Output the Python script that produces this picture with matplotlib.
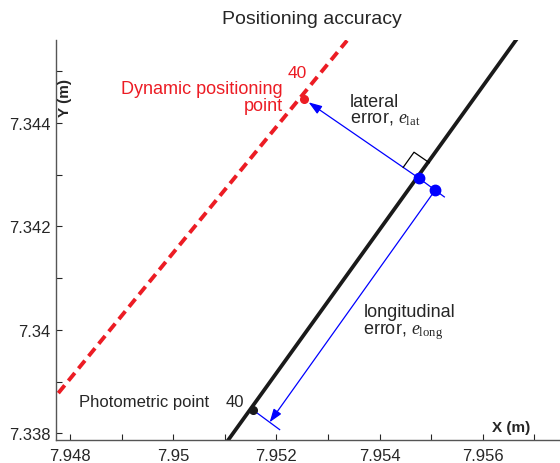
import numpy as np
import matplotlib
matplotlib.use("Agg")
import matplotlib.pyplot as plt
from matplotlib.ticker import MultipleLocator, FormatStrFormatter

plt.rcParams['font.family'] = ['Liberation Sans', 'DejaVu Sans']
plt.rcParams['mathtext.fontset'] = 'custom'
plt.rcParams['mathtext.rm'] = 'Liberation Serif'
plt.rcParams['mathtext.it'] = 'Liberation Serif:italic'

# data (metres)
track_x = [7.95107, 7.95664]          # photometric trajectory
track_y = [7.33788, 7.34559]
dyn_x = [7.94777, 7.95337]            # dynamic positioning trajectory
dyn_y = [7.33878, 7.34559]
photo_pt = (7.951546, 7.338454)       # photometric point 40
dyn_pt = (7.952526, 7.344464)         # dynamic positioning point 40
foot_pt = (7.954756, 7.342937)        # projection of dyn point on track
offset_pt = (7.955079, 7.342700)      # start of longitudinal dimension line
point_id = '40'

RED = '#ec1c24'
BLUE = '#0000ff'
GREY = '#262626'

fig = plt.figure(figsize=(5.6, 4.64), dpi=100)
ax = fig.add_axes([0.0995, 0.0502, 0.9005, 0.8614])

ax.plot(dyn_x, dyn_y, color=RED, lw=2.8, dashes=(2.6, 1.5), zorder=2)
ax.plot(track_x, track_y, color='#1a1a1a', lw=2.7, zorder=2)

# unit vectors along track and toward the dynamic point
u = np.array(foot_pt) - np.array(photo_pt)
u = u / np.hypot(*u)
n = np.array(dyn_pt) - np.array(foot_pt)
n = n / np.hypot(*n)
off = np.array(offset_pt) - np.array(foot_pt)

arrow = dict(arrowstyle='-|>,head_length=0.8,head_width=0.28',
             color=BLUE, lw=0.9, shrinkA=0, shrinkB=0)

# lateral error arrow, extended past the offset point
tip = np.array(dyn_pt) - n * 0.00012
ext = np.array(foot_pt) + off * 1.55
ax.plot([foot_pt[0], ext[0]], [foot_pt[1], ext[1]], color=BLUE, lw=0.9, zorder=3)
ax.annotate('', xy=tip, xytext=foot_pt, arrowprops=arrow, zorder=3)

# longitudinal error arrow (offset dimension line)
ltip = np.array(photo_pt) + off
lext = np.array(photo_pt) + off * 1.6
ax.plot([photo_pt[0], lext[0]], [photo_pt[1], lext[1]], color=BLUE, lw=0.9, zorder=3)
ax.annotate('', xy=ltip, xytext=offset_pt, arrowprops=arrow, zorder=3)

# right angle marker
s = 0.00036
fp = np.array(foot_pt)
sq = np.array([fp + s * n, fp + s * n + s * u, fp + s * u])
ax.plot(sq[:, 0], sq[:, 1], color='black', lw=0.9, zorder=3)

ax.plot(*foot_pt, 'o', color=BLUE, ms=7.5, zorder=4)
ax.plot(*offset_pt, 'o', color=BLUE, ms=7.5, zorder=4)
ax.plot(*dyn_pt, 'o', color=RED, ms=5.5, zorder=4)
ax.plot(*photo_pt, 'o', color='#1a1a1a', ms=5.5, zorder=4)

ax.text(7.95212, 7.344502, 'Dynamic positioning\npoint', color=RED, fontsize=13,
        ha='right', va='center', multialignment='right', linespacing=1.0)
ax.text(7.9524, 7.344966, point_id, color=RED, fontsize=12.5, ha='center', va='center')
ax.text(7.94818, 7.338609, 'Photometric point', color=GREY, fontsize=12, ha='left', va='center')
ax.text(7.951191, 7.338609, point_id, color=GREY, fontsize=12, ha='center', va='center')
ax.text(7.95342, 7.344250, 'lateral\nerror, $e_{\\rm lat}$', color=GREY, fontsize=13,
        ha='left', va='center', linespacing=1.0)
ax.text(7.953687, 7.340150, 'longitudinal\nerror, $e_{\\rm long}$', color=GREY, fontsize=13,
        ha='left', va='center', linespacing=1.0)

ax.text(0.0184, 0.8586, 'Y (m)', transform=ax.transAxes, rotation=90, fontsize=11,
        fontweight='bold', color=GREY, ha='center', va='center')
ax.text(0.903, 0.0325, 'X (m)', transform=ax.transAxes, fontsize=11,
        fontweight='bold', color=GREY, ha='center', va='center')
fig.text(311.5 / 560, 1 - 20 / 464, 'Positioning accuracy', fontsize=14, color=GREY,
         ha='center', va='center')

ax.set_xlim(7.94772, 7.95750)
ax.set_ylim(7.33788, 7.34560)
ax.xaxis.set_major_locator(MultipleLocator(0.002))
ax.xaxis.set_minor_locator(MultipleLocator(0.001))
ax.yaxis.set_major_locator(MultipleLocator(0.002))
ax.yaxis.set_minor_locator(MultipleLocator(0.001))
ax.xaxis.set_major_formatter(FormatStrFormatter('%g'))
ax.yaxis.set_major_formatter(FormatStrFormatter('%g'))
ax.tick_params(which='both', direction='in', length=4, width=0.8, color=GREY,
               labelcolor=GREY, labelsize=12)
ax.tick_params(axis='x', pad=6)
ax.spines['top'].set_visible(False)
ax.spines['right'].set_visible(False)
for sp in ('left', 'bottom'):
    ax.spines[sp].set_color('#555555')
    ax.spines[sp].set_linewidth(1.0)

fig.savefig('out.png', dpi=100)
